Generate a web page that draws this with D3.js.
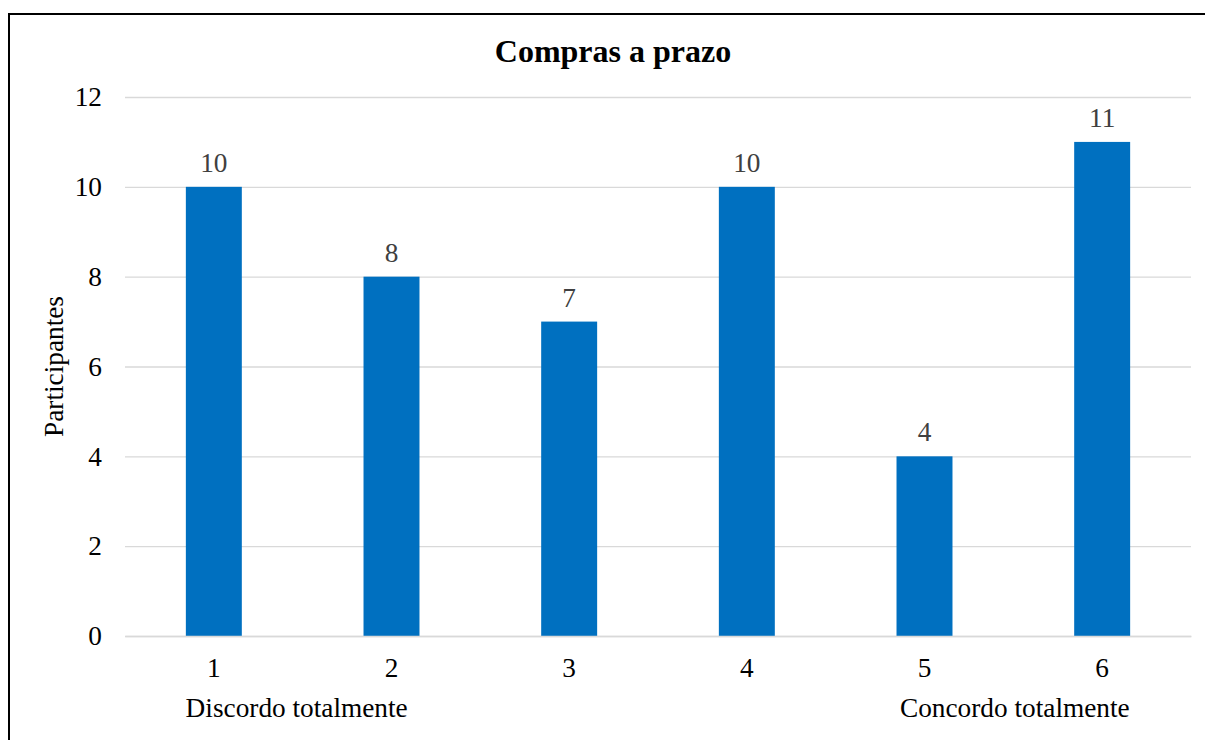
<!DOCTYPE html>
<html>
<head>
<meta charset="utf-8">
<script src="https://cdn.jsdelivr.net/npm/d3@7"></script>
<style>
  html, body { margin: 0; padding: 0; background: #fff; }
  svg { display: block; font-family: "Liberation Serif", "Times New Roman", serif; }
</style>
</head>
<body>
<svg id="chart" width="1205" height="740"></svg>
<script>
const categories = ["1", "2", "3", "4", "5", "6"];
const values = [10, 8, 7, 10, 4, 11];
const yTicks = [0, 2, 4, 6, 8, 10, 12];
const scaleNotes = [
  { text: "Discordo totalmente", between: ["1", "2"], shift: -6 },
  { text: "Concordo totalmente", between: ["5", "6"], shift: 1.5 }
];

const svg = d3.select("#chart");
const W = 1205, H = 740;
const margin = { left: 125, right: 14, top: 97, bottom: 104 };
const FS = 27.3;

// outer frame (left and top edges)
svg.append("path")
  .attr("d", `M9,${H} L9,14 L${W},14`)
  .attr("fill", "none")
  .attr("stroke", "#000")
  .attr("stroke-width", 2);

const x = d3.scaleBand()
  .domain(categories)
  .range([margin.left, W - margin.right])
  .paddingInner(0.685)
  .paddingOuter(0.3425);

const y = d3.scaleLinear()
  .domain([0, 12])
  .range([H - margin.bottom, margin.top]);

// gridlines
const yAxis = d3.axisLeft(y)
  .tickValues(yTicks)
  .tickSize(-(W - margin.right - margin.left))
  .tickPadding(23)
  .tickFormat(d3.format("d"));

const gy = svg.append("g")
  .attr("transform", `translate(${margin.left},0)`)
  .call(yAxis);
gy.select(".domain").remove();
gy.selectAll(".tick line").attr("stroke", "#d9d9d9").attr("stroke-width", 1.3);
gy.selectAll(".tick text")
  .attr("font-size", FS)
  .attr("fill", "#000")
  .attr("font-family", "Liberation Serif, serif");

// bars
svg.append("g").selectAll("rect")
  .data(categories)
  .join("rect")
  .attr("x", d => x(d))
  .attr("width", x.bandwidth())
  .attr("y", (d, i) => y(values[i]))
  .attr("height", (d, i) => y(0) - y(values[i]))
  .attr("fill", "#0070C0");

// value labels
svg.append("g").selectAll("text")
  .data(categories)
  .join("text")
  .attr("x", d => x(d) + x.bandwidth() / 2)
  .attr("y", (d, i) => y(values[i]) - 15)
  .attr("text-anchor", "middle")
  .attr("font-size", FS)
  .attr("fill", "#404040")
  .text((d, i) => values[i]);

// x axis
const xAxis = d3.axisBottom(x).tickSize(0).tickPadding(0);
const gx = svg.append("g")
  .attr("transform", `translate(0,${y(0)})`)
  .call(xAxis);
gx.select(".domain").attr("stroke", "#d9d9d9").attr("stroke-width", 1.3);
gx.selectAll(".tick text")
  .attr("dy", null)
  .attr("y", 41)
  .attr("font-size", FS)
  .attr("fill", "#000")
  .attr("font-family", "Liberation Serif, serif");

// scale end notes
svg.append("g").selectAll("text")
  .data(scaleNotes)
  .join("text")
  .attr("x", d => (x(d.between[0]) + x(d.between[1])) / 2 + x.bandwidth() / 2 + d.shift)
  .attr("y", y(0) + 81)
  .attr("text-anchor", "middle")
  .attr("font-size", FS)
  .attr("fill", "#000")
  .text(d => d.text);

// y axis title
svg.append("text")
  .attr("transform", `translate(63,${(y(0) + y(12)) / 2}) rotate(-90)`)
  .attr("text-anchor", "middle")
  .attr("font-size", FS)
  .attr("fill", "#000")
  .text("Participantes");

// chart title
svg.append("text")
  .attr("x", 613)
  .attr("y", 62)
  .attr("text-anchor", "middle")
  .attr("font-size", 32)
  .attr("font-weight", "bold")
  .attr("fill", "#000")
  .text("Compras a prazo");
</script>
</body>
</html>
